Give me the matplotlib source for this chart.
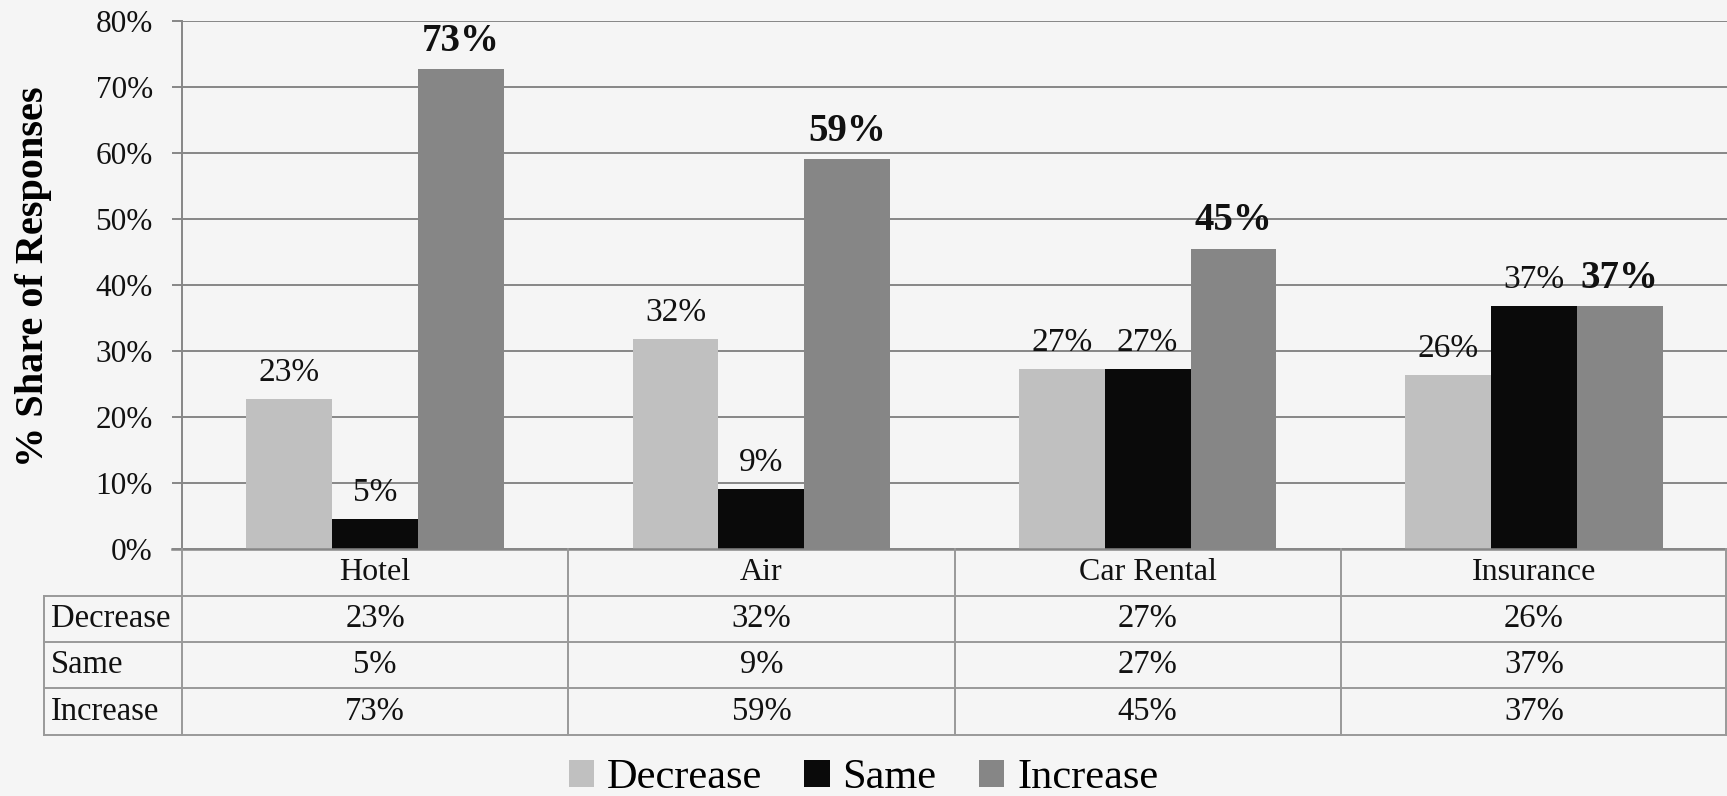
import numpy as np
import matplotlib
matplotlib.use("Agg")
import matplotlib.pyplot as plt
from matplotlib.patches import Patch

plt.rcParams['font.family'] = ['Liberation Serif', 'DejaVu Serif']

# Data (share of responses, %)
categories = ['Hotel', 'Air', 'Car Rental', 'Insurance']
series = ['Decrease', 'Same', 'Increase']
decrease = [22.7, 31.8, 27.3, 26.3]
same = [4.5, 9.1, 27.3, 36.8]
increase = [72.7, 59.1, 45.5, 36.8]
values = [decrease, same, increase]
# labels as printed on the chart
decrease_lbl = ['23%', '32%', '27%', '26%']
same_lbl = ['5%', '9%', '27%', '37%']
increase_lbl = ['73%', '59%', '45%', '37%']
labels = [decrease_lbl, same_lbl, increase_lbl]
colors = ['#c0c0c0', '#0a0a0a', '#868686']
yticks = [0, 10, 20, 30, 40, 50, 60, 70, 80]

bg = '#f5f5f5'
grid_c = '#878787'
W, H = 1727, 796

fig = plt.figure(figsize=(W / 100, H / 100), dpi=100, facecolor=bg)

# plot area in pixel coords
px_left, px_right, px_top, px_zero = 182, 1727, 20.7, 549
ax = fig.add_axes([px_left / W, 1 - px_zero / H,
                   (px_right - px_left) / W, (px_zero - px_top) / H])
ax.set_facecolor(bg)
ax.set_xlim(-0.5, len(categories) - 0.5)
ax.set_ylim(0, 80)

x = np.arange(len(categories))
bw = 1 / 4.5
for i, (vals, lbls, col) in enumerate(zip(values, labels, colors)):
    pos = x + (i - 1) * bw
    ax.bar(pos, vals, width=bw, color=col, zorder=3)
    bold = series[i] == 'Increase'
    for xp, v, t in zip(pos, vals, lbls):
        ax.annotate(t, (xp, v), xytext=(0, 13), textcoords='offset points',
                    ha='center', va='baseline', fontsize=28 if bold else 24,
                    fontweight='bold' if bold else 'normal', color='#111111', zorder=4)

ax.set_yticks(yticks)
ax.set_yticklabels([f'{t}%' for t in yticks], fontsize=22.5, color='#111111')
ax.set_xticks([])
ax.tick_params(axis='y', length=7, width=1.4, color=grid_c, pad=14)
ax.yaxis.grid(True, color=grid_c, linewidth=1.4, zorder=0)
for s in ['top', 'right', 'bottom']:
    ax.spines[s].set_visible(False)
ax.spines['left'].set_color(grid_c)
ax.spines['left'].set_linewidth(1.4)
ax.set_ylabel('% Share of Responses', fontsize=29, fontweight='bold')
ax.yaxis.set_label_coords(-0.084, 0.515)

# data table drawn below the axis
tab_left, tab_bottom = 44, 735
row_edges = [549, 596, 642, 688, 735]
unit = (px_right - px_left) / len(categories)
tax = fig.add_axes([tab_left / W, 1 - tab_bottom / H,
                    (px_right - tab_left) / W, (tab_bottom - px_zero) / H])
tax.set_xlim(-0.5 - (px_left - tab_left) / unit, len(categories) - 0.5)
tax.set_ylim(tab_bottom, px_zero)
tax.axis('off')
tax.patch.set_alpha(0)

lc = '#999999'
xl = tax.get_xlim()[0]
# horizontal lines
tax.plot([-0.5 - 10 / unit, len(categories) - 0.5], [549, 549], color=grid_c, lw=1.8, clip_on=False)
for y in row_edges[1:]:
    tax.plot([xl, len(categories) - 0.5], [y, y], color=lc, lw=1.4, clip_on=False)
# vertical lines
for k in range(len(categories) + 1):
    xv = -0.5 + k
    if k == len(categories):
        xv -= 1 / unit
    tax.plot([xv, xv], [549, 735], color=lc, lw=1.4, clip_on=False)
tax.plot([xl, xl], [596, 735], color=lc, lw=1.4, clip_on=False)

for j, c in enumerate(categories):
    tax.text(j, (row_edges[0] + row_edges[1]) / 2, c, ha='center', va='center',
             fontsize=23, color='#111111')
for i, (name, lbls) in enumerate(zip(series, labels)):
    yc = (row_edges[i + 1] + row_edges[i + 2]) / 2
    tax.text(xl + 7 / unit, yc, name, ha='left', va='center', fontsize=23.5, color='#111111')
    for j, t in enumerate(lbls):
        tax.text(j, yc, t, ha='center', va='center', fontsize=23.5, color='#111111')

handles = [Patch(facecolor=c, edgecolor='none', label=s) for s, c in zip(series, colors)]
fig.legend(handles=handles, loc='center', bbox_to_anchor=(0.5, 1 - 778 / H),
           ncol=3, frameon=False, fontsize=30.5, handlelength=0.6, handleheight=0.6,
           handletextpad=0.3, columnspacing=1.0, borderaxespad=0, borderpad=0)

fig.savefig('out.png', dpi=100, facecolor=bg)
